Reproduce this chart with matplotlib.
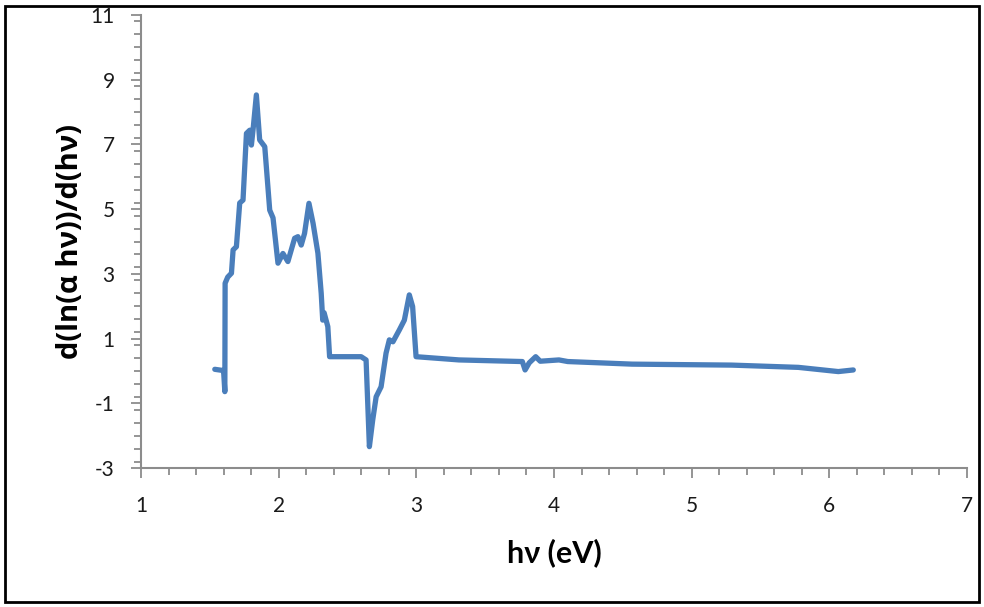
import matplotlib.pyplot as plt
from matplotlib.patches import Rectangle
from matplotlib.ticker import MultipleLocator

# photon energy (eV) and d(ln(alpha*h*nu))/d(h*nu)
energy = [1.536, 1.585, 1.600, 1.609, 1.611, 1.630, 1.657, 1.669, 1.693, 1.717,
          1.741, 1.766, 1.790, 1.802, 1.815, 1.838, 1.862, 1.899, 1.935, 1.959,
          1.995, 2.031, 2.067, 2.116, 2.140, 2.164, 2.188, 2.220, 2.250, 2.285,
          2.309, 2.320, 2.330, 2.357, 2.370, 2.599, 2.635, 2.659, 2.683, 2.708,
          2.744, 2.780, 2.804, 2.830, 2.877, 2.913, 2.949, 2.973, 2.998, 3.310,
          3.770, 3.790, 3.820, 3.867, 3.900, 4.036, 4.100, 4.567, 5.290, 5.775,
          6.065, 6.174]
deriv = [0.05, 0.02, 0.00, -0.64, 2.71, 2.90, 3.02, 3.74, 3.84, 5.19,
         5.28, 7.34, 7.44, 6.98, 7.50, 8.53, 7.14, 6.93, 4.97, 4.73,
         3.33, 3.63, 3.38, 4.10, 4.15, 3.89, 4.25, 5.18, 4.56, 3.64,
         2.40, 1.57, 1.80, 1.37, 0.44, 0.44, 0.34, -2.34, -1.52, -0.80,
         -0.49, 0.55, 0.96, 0.90, 1.27, 1.57, 2.35, 1.99, 0.44, 0.34,
         0.29, 0.03, 0.25, 0.44, 0.30, 0.34, 0.29, 0.21, 0.18, 0.11,
         -0.02, 0.03]

x_ticks = [1, 2, 3, 4, 5, 6, 7]
y_ticks = [-3, -1, 1, 3, 5, 7, 9, 11]

plt.rcParams['font.family'] = ['Lato', 'DejaVu Sans']
plt.rcParams['axes.unicode_minus'] = False

fig = plt.figure(figsize=(9.84, 6.07), dpi=100)
ax = fig.add_axes([141 / 984, 1 - 468 / 607, 826 / 984, 453 / 607])

ax.plot(energy, deriv, color='#4a7ebb', lw=3.8, solid_joinstyle='round',
        solid_capstyle='round')

ax.set_xlim(1, 7)
ax.set_ylim(-3, 11)
ax.set_xticks(x_ticks)
ax.set_yticks(y_ticks)
ax.xaxis.set_minor_locator(MultipleLocator(0.2))
ax.yaxis.set_minor_locator(MultipleLocator(0.4))

for s in ['top', 'right']:
    ax.spines[s].set_visible(False)
for s in ['left', 'bottom']:
    ax.spines[s].set_color('#8c8c8c')
    ax.spines[s].set_linewidth(1.5)

ax.tick_params(which='major', length=7, width=1.3, color='#8c8c8c',
               labelsize=15, labelcolor='#1a1a1a')
ax.tick_params(which='minor', length=5, width=1.3, color='#8c8c8c')
ax.tick_params(axis='x', which='major', pad=13)
ax.tick_params(axis='y', which='major', pad=12)

ax.set_xlabel('hν (eV)', fontsize=22, fontweight='bold', labelpad=16)
ax.set_ylabel('d(ln(α hν))/d(hν)', fontsize=21, fontweight='bold',
              family=['Open Sans', 'DejaVu Sans'], labelpad=4)

# outer border
fig.patches.append(Rectangle((5 / 984, 5 / 607), 974 / 984, 596 / 607,
                             transform=fig.transFigure, fill=False,
                             edgecolor='black', lw=2))

fig.savefig('out.png', dpi=100)
